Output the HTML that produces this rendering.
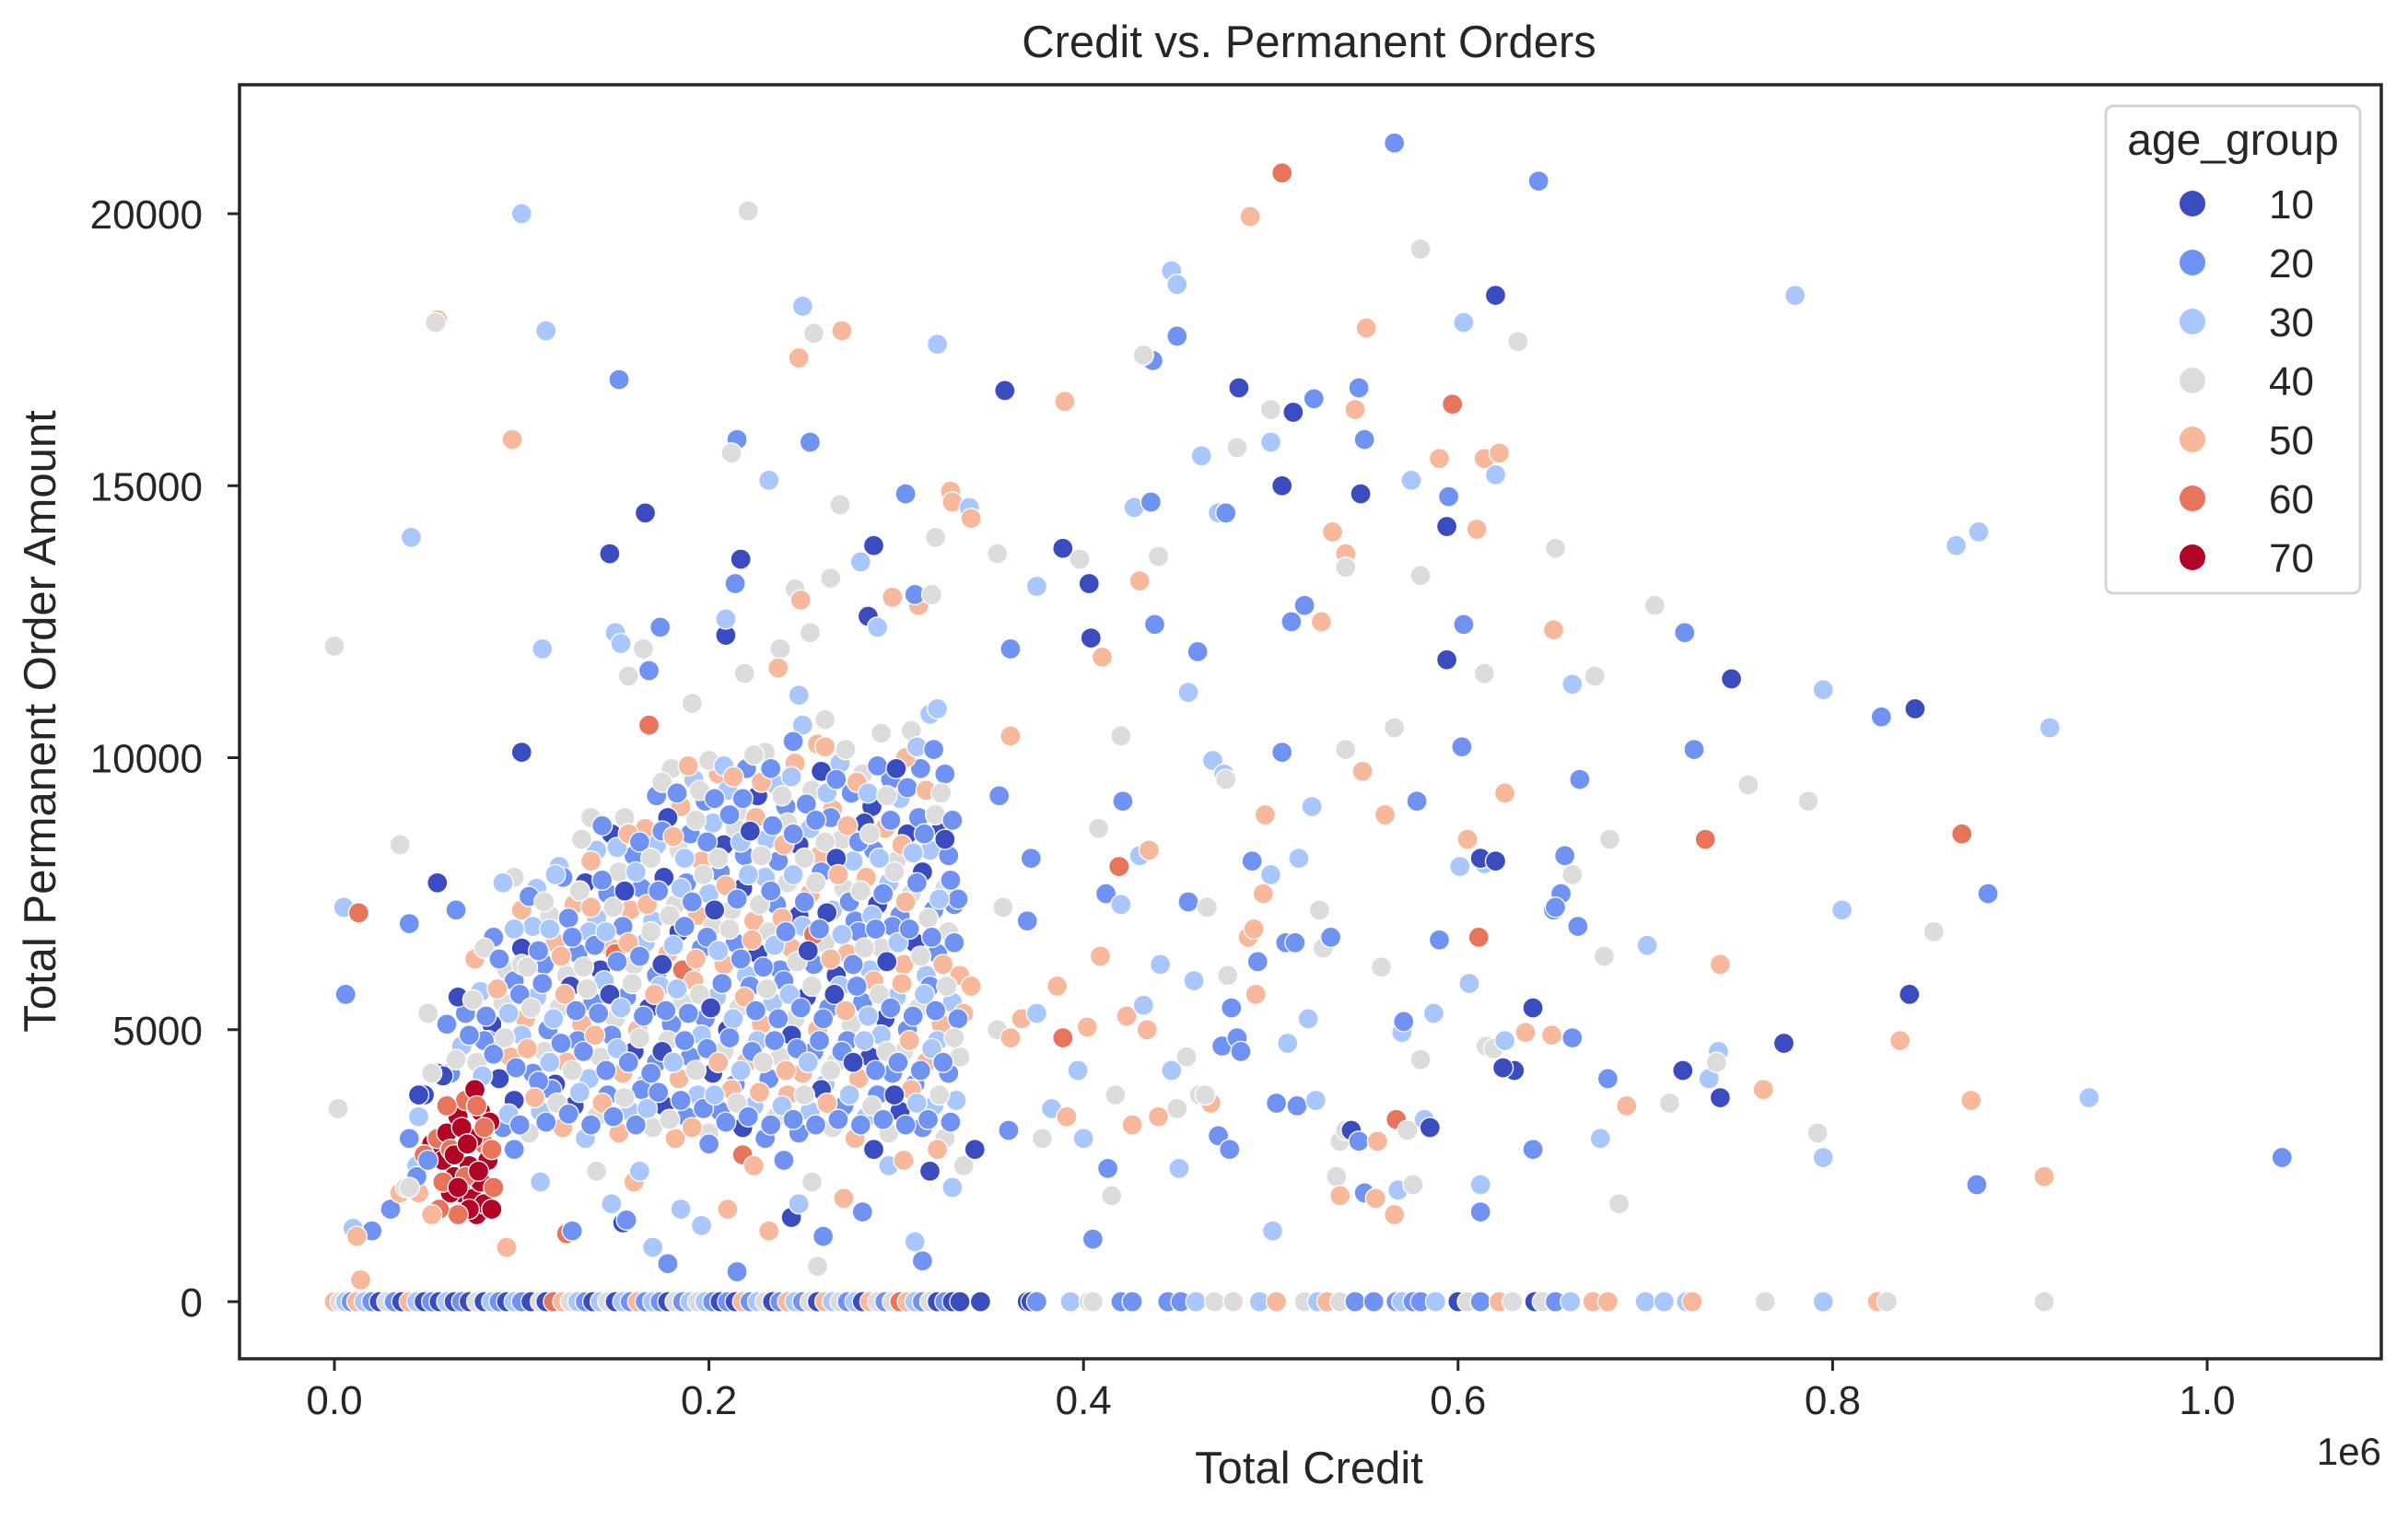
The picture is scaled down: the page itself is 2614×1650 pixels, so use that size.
<!DOCTYPE html>
<html><head><meta charset="utf-8"><style>
html,body{margin:0;padding:0;background:#fff;}
svg{display:block;font-family:"Liberation Sans",sans-serif;}
</style></head><body>
<svg id="chart" width="2614" height="1650" viewBox="0 0 2614 1650" xmlns="http://www.w3.org/2000/svg">
<rect x="0" y="0" width="2614" height="1650" fill="#fff"/>
<text x="1421" y="62" font-size="49" text-anchor="middle" fill="#262626">Credit vs. Permanent Orders</text>
<g id="points"></g>
<g id="axes"></g>
<rect x="260" y="92" width="2325" height="1383" fill="none" stroke="#262626" stroke-width="3.5"/>
<text x="1421" y="1610" font-size="49" text-anchor="middle" fill="#262626">Total Credit</text>
<text x="2585" y="1590" font-size="42" text-anchor="end" fill="#262626">1e6</text>
<text transform="translate(60,783) rotate(-90)" font-size="49" text-anchor="middle" fill="#262626">Total Permanent Order Amount</text>
<g id="legend">
<rect x="2286" y="115" width="276" height="529" rx="8" fill="#fff" fill-opacity="0.8" stroke="#d4d4d4" stroke-width="3"/>
<text x="2424" y="168" font-size="48" text-anchor="middle" fill="#262626">age_group</text>
</g>
</svg>
<script>
const ageGroups = [10,20,30,40,50,60,70];
const ageColors = ['#3b4cc0','#7093f3','#aac7fd','#dddcdc','#f7b89c','#e7745b','#b40426'];
const xTicks = [0,0.2,0.4,0.6,0.8,1.0];
const xTickLabels = ['0.0','0.2','0.4','0.6','0.8','1.0'];
const yTicks = [0,5000,10000,15000,20000];
const yTickLabels = ['0','5000','10000','15000','20000'];
// [credit in thousands, permanent order amount, age_group]
const zeroRow = [[0,0,50],[3,0,40],[6,0,30],[9,0,20],[12,0,50],[16,0,30],[20,0,20],[24,0,10],[28,0,40],[32,0,20],[36,0,10],[40,0,50],[44,0,30],[48,0,10],[52,0,20],[56,0,10],[60,0,30],[64,0,10],[68,0,20],[72,0,10],[76,0,40],[80,0,10],[84,0,30],[88,0,20],[92,0,10],[96,0,30],[100,0,20],[105,0,10],[110,0,40],[113,0,10],[117,0,60],[122,0,50],[126,0,40],[130,0,30],[134,0,20],[138,0,10],[142,0,30],[146,0,40],[150,0,10],[154,0,30],[158,0,20],[162,0,50],[166,0,20],[170,0,30],[174,0,20],[178,0,10],[182,0,40],[186,0,20],[190,0,30],[194,0,40],[198,0,30],[202,0,20],[206,0,10],[210,0,20],[214,0,10],[218,0,50],[222,0,20],[226,0,30],[230,0,40],[234,0,10],[238,0,20],[242,0,50],[246,0,30],[250,0,20],[254,0,40],[258,0,10],[262,0,50],[266,0,30],[270,0,40],[274,0,20],[278,0,30],[282,0,10],[286,0,50],[290,0,40],[294,0,20],[298,0,40],[302,0,60],[306,0,50],[310,0,30],[314,0,20],[318,0,40],[322,0,10],[326,0,20],[330,0,10],[334,0,10],[345,0,10],[370,0,10],[372,0,10],[375,0,20],[393,0,30],[403,0,40],[405,0,40],[420,0,20],[426,0,20],[445,0,20],[452,0,20],[460,0,30],[470,0,40],[480,0,40],[494,0,30],[503,0,50],[518,0,40],[525,0,30],[530,0,50],[537,0,40],[545,0,20],[555,0,20],[567,0,20],[570,0,30],[576,0,20],[580,0,20],[588,0,30],[600,0,10],[605,0,40],[612,0,20],[622,0,50],[629,0,40],[641,0,10],[645,0,40],[652,0,20],[660,0,30],[672,0,50],[680,0,50],[700,0,30],[710,0,30],[722,0,30],[725,0,50],[764,0,40],[795,0,30],[824,0,50],[829,0,40],[913,0,40]];
const densePoints = [[172,9300,20],[180,9800,40],[185,9100,50],[192,9600,30],[198,9200,20],[205,9700,50],[210,9400,30],[215,9000,40],[220,9800,20],[226,9300,10],[230,10100,40],[236,9500,30],[241,9100,20],[246,9900,50],[250,10600,30],[255,9400,40],[260,9750,10],[266,9050,50],[270,9900,30],[276,9350,20],[282,9700,40],[287,9100,10],[292,10450,40],[297,9600,20],[302,9250,30],[308,10500,40],[313,9800,20],[318,10800,30],[322,10900,30],[326,9700,20],[200,9950,40],[245,10300,20],[262,10700,40],[305,10000,50],
[140,8300,30],[148,8600,10],[155,8900,40],[160,8200,20],[166,8700,50],[172,8400,30],[178,8900,10],[184,8300,40],[190,8600,20],[196,8100,50],[202,8800,30],[208,8400,10],[214,8700,40],[219,8200,20],[225,8900,50],[231,8500,30],[237,8100,20],[242,8800,40],[248,8400,10],[254,8700,30],[259,8200,50],[265,8900,20],[271,8500,40],[277,8100,30],[283,8800,10],[288,8300,20],[294,8700,50],[300,8100,40],[306,8600,10],[312,8900,20],[318,8300,30],[324,8700,10],[328,8200,20],[132,8500,40],[120,8000,30],
[100,7200,50],[108,7600,30],[115,7100,40],[122,7800,20],[128,7300,50],[134,7700,10],[140,7050,30],[146,7500,20],[152,7900,40],[158,7200,50],[164,7600,20],[170,7000,30],[176,7800,10],[182,7300,40],[188,7700,20],[194,7100,50],[200,7500,30],[206,7900,20],[212,7200,40],[218,7600,10],[224,7000,50],[230,7800,30],[236,7300,20],[242,7700,40],[248,7100,10],[254,7500,50],[260,7900,20],[266,7200,30],[272,7600,40],[278,7000,20],[284,7800,50],[290,7300,10],[296,7700,30],[302,7100,20],[308,7500,40],[314,7900,10],[320,7200,20],[326,7600,40],[331,7300,20],[333,7400,20],[96,7800,40],[90,7700,30],
[75,6300,50],[85,6700,20],[92,6100,40],[100,6500,10],[106,6900,30],[112,6200,20],[118,6600,50],[124,6000,40],[130,6400,20],[136,6800,30],[142,6100,10],[148,6500,50],[154,6900,20],[160,6200,40],[166,6600,30],[172,6000,20],[178,6400,50],[184,6800,10],[190,6100,30],[196,6500,20],[202,6900,40],[208,6200,50],[214,6600,20],[220,6000,30],[226,6400,10],[232,6800,40],[238,6100,20],[244,6500,50],[250,6900,30],[256,6200,20],[262,6600,40],[268,6000,10],[274,6400,50],[280,6800,20],[286,6100,30],[292,6500,40],[298,6900,20],[304,6200,50],[310,6600,10],[316,6000,30],[322,6400,20],[328,6800,40],[334,6000,50],[256,6750,60],[186,6100,60],
[70,5300,20],[78,5700,30],[84,5100,10],[90,5500,40],[96,5900,20],[102,5200,50],[108,5600,30],[114,5000,20],[120,5400,40],[126,5800,10],[132,5100,50],[138,5500,20],[144,5900,30],[150,5200,40],[156,5600,20],[162,5000,50],[168,5400,10],[174,5800,30],[180,5100,20],[186,5500,40],[192,5900,50],[198,5200,20],[204,5600,30],[210,5000,10],[216,5400,40],[222,5800,20],[228,5100,50],[234,5500,30],[240,5900,20],[246,5200,40],[252,5600,10],[258,5000,50],[264,5400,20],[270,5800,30],[276,5100,40],[282,5500,20],[288,5900,50],[294,5200,10],[300,5600,30],[306,5000,20],[312,5400,40],[318,5800,20],[324,5100,50],[330,5500,30],[336,5300,50],[340,5800,50],[60,5100,20],[66,5600,10],
[62,4200,20],[68,4700,30],[76,4400,40],[82,4800,20],[88,4100,10],[94,4500,50],[100,4900,30],[106,4200,20],[112,4600,40],[118,4000,10],[124,4400,50],[130,4800,20],[136,4100,30],[142,4500,40],[148,4900,20],[154,4200,50],[160,4600,10],[166,4000,30],[172,4400,20],[178,4800,40],[184,4100,50],[190,4500,20],[196,4900,30],[202,4200,10],[208,4600,40],[214,4000,20],[220,4400,50],[226,4800,30],[232,4100,20],[238,4500,40],[244,4900,10],[250,4200,50],[256,4600,20],[262,4000,30],[268,4400,40],[274,4800,20],[280,4100,50],[286,4500,10],[292,4900,30],[298,4200,20],[304,4600,40],[310,4000,20],[316,4400,50],[322,4800,30],[328,4200,20],[334,4500,40],[48,3800,10],[55,4200,10],
[40,3000,20],[45,3400,30],[90,3200,20],[96,3700,10],[104,3100,40],[110,3500,30],[116,3900,20],[122,3200,50],[128,3600,10],[134,3000,30],[140,3400,40],[146,3800,20],[152,3100,50],[158,3500,30],[164,3900,20],[170,3200,40],[176,3600,10],[182,3000,50],[188,3400,20],[194,3800,30],[200,3100,40],[206,3500,20],[212,3900,50],[218,3200,10],[224,3600,30],[230,3000,20],[236,3400,40],[242,3800,50],[248,3100,20],[254,3500,30],[260,3900,10],[266,3200,40],[272,3600,20],[278,3000,50],[284,3400,30],[290,3800,20],[296,3100,40],[302,3500,10],[308,3900,50],[314,3200,20],[320,3600,30],[326,3000,40],[332,3700,30],
[20,1300,20],[10,1350,30],[12,1200,50],[14,400,50],[30,1700,20],[35,2000,50],[38,2100,40],[44,2500,30],[92,1000,50],[96,2800,20],[110,2200,30],[124,1250,60],[127,1300,20],[140,2400,40],[148,1800,30],[154,1450,10],[156,1500,20],[160,2200,50],[163,2400,30],[170,1000,30],[178,700,20],[185,1700,30],[196,1400,30],[200,2900,20],[210,1700,50],[215,550,20],[218,2700,60],[224,2500,50],[232,1300,50],[240,2600,20],[244,1550,10],[248,1800,30],[255,2200,40],[258,650,40],[261,1200,20],[272,1900,50],[282,1650,20],[288,2800,10],[296,2500,30],[304,2600,50],[310,1100,30],[314,750,20],[318,2400,10],[322,2800,50],[330,2100,30],[336,2500,40],[342,2800,10],
[5,7250,30],[13,7150,60],[6,5650,20],[2,3550,40],[55,7700,10],[40,6950,20],[65,7200,20],[35,8400,40],[45,3800,10],[58,4150,10],[52,4200,40],[100,6200,40],[137,8900,40],[80,4800,20],[150,6400,60],[50,5300,40]];
const denseExtra = [[175,9550,40],[183,9350,20],[189,9850,50],[195,9400,40],[203,9250,20],[208,9850,30],[213,9650,50],[218,9250,20],[224,10050,40],[228,9550,50],[233,9800,20],[239,9300,40],[244,9650,30],[252,9150,20],[258,10250,50],[263,9350,30],[268,9600,20],[273,10150,40],[279,9550,50],[285,9350,30],[290,9850,20],[295,9300,40],[300,9800,10],[306,9450,20],[311,10200,30],[316,9400,50],[320,10150,20],[324,9350,40],
[137,8100,50],[143,8750,20],[151,8350,30],[157,8600,50],[163,8450,20],[169,8150,40],[175,8650,20],[181,8550,50],[187,8150,30],[193,8850,40],[199,8450,20],[205,8150,40],[211,8950,20],[217,8450,30],[222,8650,10],[228,8200,40],[234,8750,20],[240,8400,50],[245,8600,20],[251,8150,40],[257,8850,20],[262,8450,40],[268,8150,10],[274,8750,50],[280,8450,20],[286,8600,40],[291,8150,30],[297,8850,20],[303,8400,50],[309,8250,30],[315,8600,20],[321,8950,40],[326,8500,10],[330,8850,20],
[104,7450,20],[112,7350,40],[118,7850,30],[125,7050,20],[131,7550,40],[137,7250,50],[143,7750,20],[149,7250,40],[155,7550,10],[161,7900,30],[167,7300,50],[173,7550,20],[179,7100,40],[185,7600,30],[191,7350,20],[197,7850,40],[203,7200,10],[209,7650,50],[215,7400,20],[221,7850,30],[227,7300,40],[233,7550,20],[239,7050,50],[245,7850,30],[251,7350,20],[257,7700,40],[263,7150,10],[269,7850,50],[275,7350,20],[281,7550,40],[287,7100,30],[293,7500,20],[299,7900,40],[305,7350,50],[311,7700,20],[317,7050,40],[323,7400,30],[329,7750,20],
[80,6500,40],[88,6300,20],[96,6850,30],[103,6150,40],[109,6450,20],[115,6850,30],[121,6350,50],[127,6700,20],[133,6150,40],[139,6550,20],[145,6800,30],[151,6250,20],[157,6600,50],[163,6350,20],[169,6800,40],[175,6200,10],[181,6550,30],[187,6900,20],[193,6300,50],[199,6700,20],[205,6450,30],[211,6850,40],[217,6300,20],[223,6650,50],[229,6150,20],[235,6550,30],[241,6800,20],[247,6250,40],[253,6450,10],[259,6850,20],[265,6300,50],[271,6750,30],[277,6200,20],[283,6500,40],[289,6850,20],[295,6250,10],[301,6600,30],[307,6850,20],[313,6350,40],[319,6700,20],[325,6200,50],[331,6600,20],
[74,5550,40],[81,5250,20],[87,5750,50],[93,5300,30],[99,5650,20],[105,5400,40],[111,5850,20],[117,5200,30],[123,5650,50],[129,5350,20],[135,5750,40],[141,5300,20],[147,5650,10],[153,5400,30],[159,5850,40],[165,5250,20],[171,5650,50],[177,5350,20],[183,5750,30],[189,5300,20],[195,5650,40],[201,5400,10],[207,5850,20],[213,5200,30],[219,5600,50],[225,5350,20],[231,5750,40],[237,5200,20],[243,5650,30],[249,5400,20],[255,5800,40],[261,5200,20],[267,5650,10],[273,5350,50],[279,5800,20],[285,5250,30],[291,5650,40],[297,5400,20],[303,5850,50],[309,5250,20],[315,5650,30],[321,5350,20],[327,5800,40],[333,5200,20],
[65,4450,40],[72,4900,20],[79,4150,30],[85,4550,20],[91,4850,40],[97,4300,20],[103,4650,50],[109,4050,20],[115,4400,30],[121,4750,20],[127,4250,40],[133,4600,20],[139,4900,50],[145,4250,20],[151,4650,30],[157,4400,20],[163,4850,40],[169,4200,20],[175,4600,10],[181,4400,30],[187,4800,20],[193,4250,40],[199,4650,20],[205,4400,50],[211,4850,20],[217,4250,30],[223,4600,20],[229,4400,40],[235,4800,20],[241,4250,50],[247,4650,20],[253,4400,30],[259,4800,20],[265,4250,40],[271,4600,20],[277,4400,10],[283,4800,30],[289,4250,20],[295,4600,40],[301,4400,20],[307,4800,50],[313,4250,20],[319,4650,30],[325,4400,20],[331,4850,40],
[93,3450,30],[99,3250,20],[107,3750,50],[113,3300,20],[119,3650,40],[125,3450,20],[131,3850,30],[137,3250,20],[143,3650,50],[149,3400,20],[155,3750,40],[161,3250,20],[167,3550,30],[173,3850,20],[179,3350,40],[185,3700,20],[191,3200,50],[197,3550,20],[203,3800,30],[209,3300,20],[215,3650,40],[221,3400,20],[227,3850,50],[233,3250,20],[239,3600,30],[245,3350,20],[251,3800,40],[257,3250,20],[263,3650,50],[269,3350,20],[275,3800,30],[281,3250,20],[287,3600,40],[293,3350,20],[299,3800,10],[305,3250,20],[311,3650,30],[317,3350,20],[323,3800,40],[329,3300,20]];
const midRight = [[354,5000,40],[355,9300,20],[357,7250,40],[360,3150,20],[361,4850,50],[367,5200,50],[370,7000,20],[372,8150,20],[375,5300,30],[378,3000,40],[383,3550,30],[386,5800,50],[389,4850,60],[391,3400,50],[397,4250,30],[400,3000,30],[402,5050,50],[405,1150,20],[408,8700,40],[409,6350,50],[412,7500,20],[413,2450,20],[415,1950,40],[417,3800,40],[419,8000,60],[420,7300,30],[421,9200,20],[423,5250,50],[426,3250,50],[430,8200,30],[432,5450,30],[434,5000,50],[435,8300,50],[440,3400,50],[441,6200,30],[447,4250,30],[450,3550,40],[451,2450,30],[456,7350,20],[459,5900,30],[462,3800,40],[466,7250,40],[468,3650,50],[469,9950,30],[472,3050,20],[474,4700,20],[475,9700,30],[476,9600,40],[477,6000,40],[478,2800,20],[479,5400,20],[482,4850,20],[484,4600,20],[488,6700,50],[490,8100,20],[491,6850,50],[492,5650,50],[493,6250,20],[496,7500,50],[497,8950,50],[500,7850,30],[501,1300,30],[503,3650,20],[506,10100,20],[508,6600,20],[509,4750,30],[513,6600,20],[514,3600,20],[515,8150,30],[520,5200,30],[522,9100,30],[524,3700,30],[526,7200,40],[528,6500,40],[532,6700,20],[535,2300,40],[537,1950,50],[537,2950,40],[540,3150,40],[543,3150,10],[547,2950,20],[550,2000,20],[556,1900,50],[557,2950,50],[559,6150,40],[566,1600,50],[567,3350,60],[568,2050,30],[570,4950,30],[571,5150,20],[573,3150,40],[576,2150,40],[580,4450,40],[582,3350,30],[585,3200,10],[587,5300,30],[590,6650,20],[606,5850,30],[611,6700,60],[612,2150,30],[612,1650,20],[615,4700,40],[619,4650,40],[630,4250,10],[640,2800,20],[636,4950,50],[650,4900,50],[661,4850,20],[455,4500,40],[465,3800,40]];
const outliers = [[566,21300,20],[643,20600,20],[506,20750,60],[100,20000,30],[221,20050,40],[489,19950,50],[580,19350,40],[447,18950,30],[450,18700,30],[620,18500,10],[780,18500,30],[55,18050,50],[54,18000,40],[113,17850,30],[250,18300,30],[256,17800,40],[271,17850,50],[322,17600,30],[603,18000,30],[450,17750,20],[437,17300,20],[432,17400,40],[551,17900,50],[632,17650,40],[152,16950,20],[358,16750,10],[390,16550,50],[483,16800,10],[500,16400,40],[512,16350,10],[523,16600,20],[545,16400,50],[547,16800,20],[597,16500,60],[248,17350,50],[95,15850,50],[215,15850,20],[212,15600,40],[254,15800,20],[232,15100,30],[305,14850,20],[329,14900,50],[330,14700,50],[339,14600,30],[340,14400,50],[463,15550,30],[482,15700,40],[500,15800,30],[550,15850,20],[533,14150,50],[548,14850,10],[575,15100,30],[590,15500,50],[614,15500,50],[620,15200,30],[622,15600,50],[595,14800,20],[610,14200,50],[594,14250,10],[506,15000,10],[472,14500,30],[476,14500,20],[427,14600,30],[436,14700,20],[41,14050,30],[166,14500,10],[147,13750,10],[217,13650,10],[270,14650,40],[246,13100,40],[249,12900,50],[265,13300,40],[288,13900,10],[281,13600,30],[321,14050,40],[298,12950,50],[312,12800,50],[285,12600,10],[290,12400,30],[310,13000,20],[319,13000,40],[354,13750,40],[375,13150,30],[389,13850,10],[398,13650,40],[403,13200,10],[430,13250,50],[438,12450,20],[440,13700,40],[511,12500,20],[518,12800,20],[527,12500,50],[540,13750,50],[540,13500,40],[580,13350,40],[614,11550,40],[603,12450,20],[652,13850,40],[651,12350,50],[594,11800,10],[661,11350,30],[673,11500,40],[705,12800,40],[721,12300,20],[746,11450,10],[826,10750,20],[844,10900,10],[866,13900,30],[878,14150,30],[795,11250,30],[755,9500,40],[787,9200,40],[726,10150,20],[732,8500,60],[869,8600,60],[883,7500,20],[916,10550,30],[0,12050,40],[111,12000,30],[150,12300,30],[153,12100,30],[165,12000,40],[174,12400,20],[209,12250,10],[209,12550,30],[238,12000,40],[254,12300,40],[214,13200,20],[157,11500,40],[168,11600,20],[168,10600,60],[191,11000,40],[219,11550,40],[237,11650,50],[248,11150,30],[262,10200,50],[100,10100,10],[361,12000,20],[361,10400,50],[404,12200,10],[410,11850,50],[420,10400,40],[456,11200,30],[461,11950,20],[540,10150,40],[549,9750,50],[566,10550,40],[561,8950,50],[578,9200,20],[602,10200,20],[605,8500,50],[601,8000,30],[614,8050,30],[625,9350,50],[612,8150,10],[620,8100,10],[655,7500,20],[657,8200,20],[661,7850,40],[665,9600,20],[681,8500,40],[701,6550,30],[664,6900,20],[640,5400,10],[651,7200,20],[652,7250,20],[625,4800,30],[624,4300,10],[678,6350,40],[680,4100,20],[676,3000,30],[686,1800,40],[690,3600,50],[713,3650,40],[720,4250,10],[734,4100,30],[739,4600,30],[740,3750,10],[740,6200,50],[738,4400,40],[763,3900,50],[774,4750,10],[792,3100,40],[795,2650,30],[805,7200,30],[836,4800,50],[841,5650,10],[854,6800,40],[874,3700,50],[877,2150,20],[913,2300,50],[937,3750,30],[1040,2650,20]];
const redCluster = [[52,2900,70],[55,3000,60],[58,2600,70],[60,3100,70],[62,2800,60],[64,2300,70],[66,3400,70],[68,2000,70],[70,3700,60],[72,2500,70],[74,1900,70],[75,3900,70],[76,1600,70],[78,2200,70],[78,3500,70],[80,1800,70],[80,2900,60],[82,2600,70],[84,1700,70],[83,3300,70],[72,1700,70],[66,1600,60],[70,2300,60],[62,2000,70],[56,1700,60],[60,3600,60],[74,3000,70],[68,3200,70],[76,3600,60],[80,3200,60],[64,2700,70],[58,2200,60],[85,2100,60],[48,2700,60],[52,1600,50],[45,2000,50],[44,2300,20],[50,2600,20],[40,2100,40],[84,2800,60],[77,2400,70],[71,2900,70],[66,2100,70]];

const NS='http://www.w3.org/2000/svg';
const PX0=363, PXPER=2033, PY0=1413, PYPER=1181/20000;
function xScale(v){return PX0+v*PXPER;}          // v in 1e6 units
function yScale(v){return PY0-v*PYPER;}
function colorFor(a){return ageColors[ageGroups.indexOf(a)];}

const pl=document.getElementById('points');
function drawGroup(arr,name){
  arr.forEach(p=>{
    const c=document.createElementNS(NS,'circle');
    c.setAttribute('cx',xScale(p[0]/1000).toFixed(1));
    c.setAttribute('cy',yScale(p[1]).toFixed(1));
    c.setAttribute('r',11);
    c.setAttribute('fill',colorFor(p[2]));
    c.setAttribute('stroke','#fff');
    c.setAttribute('stroke-width',1.3);
    
    
    pl.appendChild(c);
  });
}
drawGroup(zeroRow,'point-zero-row');
drawGroup(densePoints,'point-dense');
drawGroup(denseExtra,'point-dense');
drawGroup(midRight,'point-mid');
drawGroup(outliers,'point-outlier');
drawGroup(redCluster,'point-red-cluster');

const ax=document.getElementById('axes');
xTicks.forEach((t,i)=>{
  const x=xScale(t);
  const l=document.createElementNS(NS,'line');
  l.setAttribute('x1',x);l.setAttribute('x2',x);l.setAttribute('y1',1475);l.setAttribute('y2',1488);
  l.setAttribute('stroke','#262626');l.setAttribute('stroke-width',3);
  
  
  ax.appendChild(l);
  const tx=document.createElementNS(NS,'text');
  tx.setAttribute('x',x);tx.setAttribute('y',1535);tx.setAttribute('font-size',44);
  tx.setAttribute('text-anchor','middle');tx.setAttribute('fill','#262626');
  tx.textContent=xTickLabels[i];
  
  
  ax.appendChild(tx);
});
yTicks.forEach((t,i)=>{
  const y=yScale(t);
  const l=document.createElementNS(NS,'line');
  l.setAttribute('x1',247);l.setAttribute('x2',260);l.setAttribute('y1',y);l.setAttribute('y2',y);
  l.setAttribute('stroke','#262626');l.setAttribute('stroke-width',3);
  
  
  ax.appendChild(l);
  const tx=document.createElementNS(NS,'text');
  tx.setAttribute('x',220);tx.setAttribute('y',y+16);tx.setAttribute('font-size',44);
  tx.setAttribute('text-anchor','end');tx.setAttribute('fill','#262626');
  tx.textContent=yTickLabels[i];
  
  
  ax.appendChild(tx);
});
const lg=document.getElementById('legend');
ageGroups.forEach((a,i)=>{
  const y=221+i*64;
  const c=document.createElementNS(NS,'circle');
  c.setAttribute('cx',2380);c.setAttribute('cy',y);c.setAttribute('r',14);
  c.setAttribute('fill',ageColors[i]);
  
  
  lg.appendChild(c);
  const t=document.createElementNS(NS,'text');
  t.setAttribute('x',2512);t.setAttribute('y',y+16);t.setAttribute('font-size',44);
  t.setAttribute('text-anchor','end');t.setAttribute('fill','#262626');
  t.textContent=String(a);
  
  
  lg.appendChild(t);
});
</script>
</body></html>
